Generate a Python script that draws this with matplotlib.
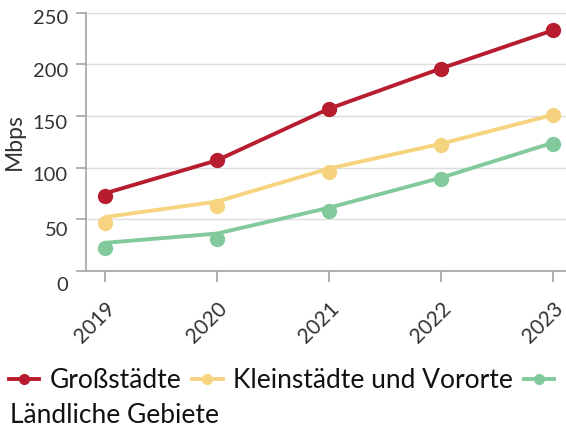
import matplotlib
matplotlib.use('Agg')
import matplotlib.pyplot as plt
import matplotlib.transforms as mtransforms
from matplotlib.lines import Line2D

years = ['2019', '2020', '2021', '2022', '2023']
seriesNames = ['Großstädte', 'Kleinstädte und Vororte', 'Ländliche Gebiete']

# line trace values and the (slightly different) point values, Mbps
grossLine = [75, 107, 157, 196, 233]
grossPoints = [72, 107, 157, 196, 233]
kleinLine = [52, 67, 99, 123, 151]
kleinPoints = [46, 63, 96, 122, 151]
landLine = [27, 36, 61, 90, 124]
landPoints = [22, 31, 58, 89, 123]

yTicks = [0, 50, 100, 150, 200, 250]

colors = ['#B71C2F', '#F6D47F', '#82CA9C']
plt.rcParams['font.family'] = ['Lato', 'DejaVu Sans']

fig = plt.figure(figsize=(5.66, 4.29), dpi=100)
ax = fig.add_axes([0.152, 0.369, 0.848, 0.601])

x = list(range(len(years)))
lines = [grossLine, kleinLine, landLine]
points = [grossPoints, kleinPoints, landPoints]
for lineVals, pointVals, color in zip(lines, points, colors):
    ax.plot(x, lineVals, color=color, lw=2.8, zorder=3, solid_capstyle='round')
    ax.plot(x, pointVals, 'o', color=color, ms=10, zorder=4)

ax.set_xlim(-0.17, 4.12)
ax.set_ylim(0, 250)
ax.set_yticks(yTicks)
ax.set_yticklabels([str(t) for t in yTicks])
ax.set_xticks(x)
ax.set_xticklabels(years, rotation=45, ha='right', va='top', rotation_mode='anchor')

ax.grid(axis='y', color='#DDDDDD', lw=1)
ax.set_axisbelow(True)
for side in ['top', 'right']:
    ax.spines[side].set_visible(False)
for side in ['left', 'bottom']:
    ax.spines[side].set_color('#A0A4A8')
    ax.spines[side].set_linewidth(1.2)

ax.tick_params(axis='y', colors='#A0A4A8', length=7, width=1.2, pad=6, labelsize=14.5, labelcolor='#333333')
ax.tick_params(axis='x', colors='#A0A4A8', length=8, width=1.2, pad=12, labelsize=15, labelcolor='#333333')

# the y labels in the original sit a little below their grid lines
drops = [9.5, 7, 4.5, 4, 4, 3]
for label, drop in zip(ax.get_yticklabels(), drops):
    label.set_transform(label.get_transform() + mtransforms.ScaledTranslation(0, -drop / 72, fig.dpi_scale_trans))

ax.set_ylabel('Mbps', fontsize=16.5, color='#333333', labelpad=6)

handles = [Line2D([0], [0], color=c, lw=2.8, marker='o', ms=7) for c in colors]
fig.legend(handles, [seriesNames[0], seriesNames[1], ''], loc='upper left', bbox_to_anchor=(0.016, 0.142),
           ncol=3, frameon=False, fontsize=19, handlelength=1.15, handletextpad=0.4, columnspacing=0.4,
           borderaxespad=0, borderpad=0, labelcolor='#111111')
fig.text(0.018, 0.032, seriesNames[2], fontsize=19, color='#111111', va='center')

fig.savefig('out.png', dpi=100)
